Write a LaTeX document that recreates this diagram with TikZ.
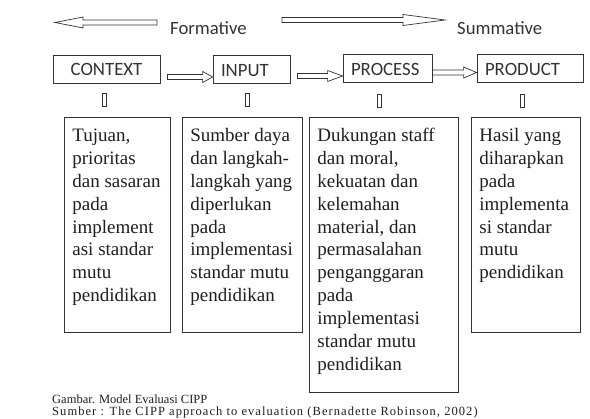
\documentclass[tikz,border=0pt]{standalone}
\usepackage{fontspec}
\setmainfont{Liberation Serif}
\newfontfamily\labelfont{Carlito}
\usetikzlibrary{positioning,calc}

% hollow arrow from #2 to #3, head length #1
\newcommand{\hollowarrow}[3][10]{%
  \draw[arrowline] let \p1=(#2), \p2=(#3), \n1={sign(\x2-\x1)} in
    (\x1,\y1+2.5) -- (\x2-\n1*#1,\y1+2.5) -- (\x2-\n1*#1,\y1+5.5) -- (\x2,\y1)
    -- (\x2-\n1*#1,\y1-5.5) -- (\x2-\n1*#1,\y1-2.5) -- (\x1,\y1-2.5) -- cycle;}

\begin{document}
\begin{tikzpicture}[x=1pt,y=-1pt,
    topbox/.style={draw=black!80, line width=0.8pt, minimum height=28pt,
      inner xsep=8pt, inner ysep=0pt, text height=14pt, text depth=-2pt,
      text=black!80, font=\labelfont\fontsize{18.8}{21}\selectfont},
    descbox/.style={draw=black!80, line width=0.8pt, anchor=north west,
      inner sep=8pt, text=black!88, font=\fontsize{19}{22.9}\selectfont},
    linkbox/.style={draw=black!80, line width=0.8pt, minimum width=4pt,
      minimum height=13pt, inner sep=0pt},
    arrowline/.style={draw=black!80, line width=0.7pt},
    phase/.style={anchor=west, inner sep=0pt, text=black!80,
      font=\labelfont\fontsize{18.7}{21}\selectfont},
    caption/.style={anchor=base west, inner sep=0pt, text=black!88,
      font=\fontsize{12.5}{13}\selectfont}]
  \useasboundingbox (0,0) rectangle (590,419);
  \fill[white] (0,0) rectangle (590,419);

  % formative / summative
  \node[phase] (formative) at (170,28) {Formative};
  \node[phase] (summative) at (457,28) {Summative};
  \coordinate (formtail) at (157,22.5);
  \coordinate (formtip) at (55,22.5);
  \coordinate (sumtail) at (282,20);
  \coordinate (sumtip) at (445,20);
  \hollowarrow[28]{formtail}{formtip}
  \hollowarrow[42]{sumtail}{sumtip}

  % CIPP stages
  \node[topbox, text width=91pt, align=center] (context) at (106.5,69) {CONTEXT};
  \node[topbox, text width=61pt, align=left] (input) at (251.5,69.5) {INPUT};
  \node[topbox, text width=73pt, align=left] (process) at (387.5,68.5) {PROCESS};
  \node[topbox, text width=90pt, align=left] (product) at (530,68.5) {PRODUCT};

  \hollowarrow[10]{$(context.east)+(7,8)$}{input.west}
  \hollowarrow[15]{$(input.east)+(7,6.5)$}{process.west}
  \hollowarrow[13]{$(process.east)+(0,4)$}{product.west}

  \node[linkbox] (contextlink) at (104,100) {};
  \node[linkbox] (inputlink) at (247,100) {};
  \node[linkbox] (processlink) at (379,101) {};
  \node[linkbox] (productlink) at (522,101) {};

  % descriptions
  \node[descbox] (contextdesc) at (64,117) {\parbox[t][199pt][t]{90pt}{\raggedright\strut
    Tujuan,\\prioritas\\dan sasaran\\pada\\implement\\asi standar\\mutu\\pendidikan}};
  \node[descbox] (inputdesc) at (182,117) {\parbox[t][199pt][t]{104pt}{\raggedright\strut
    Sumber daya\\dan langkah-\\langkah yang\\diperlukan\\pada\\implementasi\\standar mutu\\pendidikan}};
  \node[descbox] (processdesc) at (309,117) {\parbox[t][259pt][t]{133pt}{\raggedright\strut
    Dukungan staff\\dan moral,\\kekuatan dan\\kelemahan\\material, dan\\permasalahan\\penganggaran\\pada\\implementasi\\standar mutu\\pendidikan}};
  \node[descbox] (productdesc) at (471,117) {\parbox[t][199pt][t]{93pt}{\raggedright\strut
    Hasil yang\\diharapkan\\pada\\implementa\\si standar\\mutu\\pendidikan}};

  % caption
  \node[caption] (figcaption) at (52,403.5) {Gambar. Model Evaluasi CIPP};
  \node[caption] (figsource) at (52,416) {\addfontfeature{LetterSpace=8.5}Sumber : The CIPP approach to evaluation (Bernadette Robinson, 2002)};
\end{tikzpicture}
\end{document}
